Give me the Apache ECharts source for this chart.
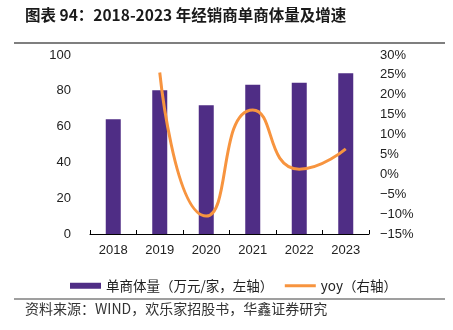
<!DOCTYPE html>
<html>
<head>
<meta charset="utf-8">
<script src="https://cdn.jsdelivr.net/npm/echarts@6/dist/echarts.min.js"></script>
<style>
html,body{margin:0;padding:0;background:#fff;}
#c{width:453px;height:330px;}
</style>
</head>
<body>
<div id="c"></div>
<script>
var categories = ['2018', '2019', '2020', '2021', '2022', '2023'];
var volume = [64.1, 80.3, 71.9, 83.4, 84.5, 89.8];
var yoy = [null, 25.6, -10.5, 16.2, 1.3, 6.4];
var leftTicks = { min: 0, max: 100, interval: 20 };
var rightTicks = { min: -15, max: 30, interval: 5 };
var titleText = '图表 94：2018-2023 年经销商单商体量及增速';
var sourceText = '资料来源：WIND，欢乐家招股书，华鑫证券研究';
var barName = '单商体量（万元/家，左轴）';
var lineName = 'yoy（右轴）';

var FONT = '"Liberation Sans", Arial, sans-serif';
var CJK = '"Noto Sans CJK SC", sans-serif';

var chart = echarts.init(document.getElementById('c'), null, { renderer: 'canvas' });
chart.setOption({
  animation: false,
  backgroundColor: '#fff',
  grid: { left: 90, right: 84, top: 55, bottom: 96, containLabel: false },
  graphic: [
    { type: 'text', left: 25, top: 7, style: { text: titleText, font: 'bold 15.5px ' + CJK, fill: '#1a1a1a' } },
    { type: 'line', shape: { x1: 14, y1: 43, x2: 445, y2: 43 }, style: { stroke: '#7f7f7f', lineWidth: 2 } },
    { type: 'line', shape: { x1: 14, y1: 299, x2: 445, y2: 299 }, style: { stroke: '#7f7f7f', lineWidth: 1.5 } },
    { type: 'text', left: 25, top: 302, style: { text: sourceText, font: '14px ' + CJK, fill: '#333' } }
  ],
  legend: {
    left: 65, top: 274, itemGap: 10, itemWidth: 31, itemHeight: 6,
    textStyle: { fontFamily: CJK, fontSize: 13.5, color: '#222' },
    data: [
      { name: barName, icon: 'rect' },
      { name: lineName, itemStyle: { opacity: 0 }, lineStyle: { width: 3, color: '#F7943F' } }
    ]
  },
  xAxis: {
    type: 'category', data: categories, boundaryGap: true,
    axisLine: { show: true, lineStyle: { color: '#000', width: 1 } },
    axisTick: { show: true, inside: true, length: 4, lineStyle: { color: '#000' } },
    axisLabel: { fontFamily: FONT, fontSize: 13, color: '#222', margin: 10 },
    splitLine: { show: false }
  },
  yAxis: [
    {
      type: 'value', min: leftTicks.min, max: leftTicks.max, interval: leftTicks.interval,
      axisLine: { show: false }, axisTick: { show: false }, splitLine: { show: false },
      axisLabel: { fontFamily: FONT, fontSize: 13, color: '#222', margin: 19 }
    },
    {
      type: 'value', min: rightTicks.min, max: rightTicks.max, interval: rightTicks.interval,
      axisLine: { show: false }, axisTick: { show: false }, splitLine: { show: false },
      axisLabel: {
        fontFamily: FONT, fontSize: 13, color: '#222', margin: 11,
        formatter: function (v) { return (v < 0 ? '\u2212' + Math.abs(v) : v) + '%'; }
      }
    }
  ],
  series: [
    {
      name: barName, type: 'bar', yAxisIndex: 0, data: volume, barWidth: 15,
      itemStyle: { color: '#4F2D85' }
    },
    {
      name: lineName, type: 'line', yAxisIndex: 1, data: yoy, smooth: 0.6,
      symbol: 'none', connectNulls: false,
      lineStyle: { color: '#F7943F', width: 3 },
      itemStyle: { color: '#F7943F' }
    }
  ]
});
</script>
</body>
</html>
